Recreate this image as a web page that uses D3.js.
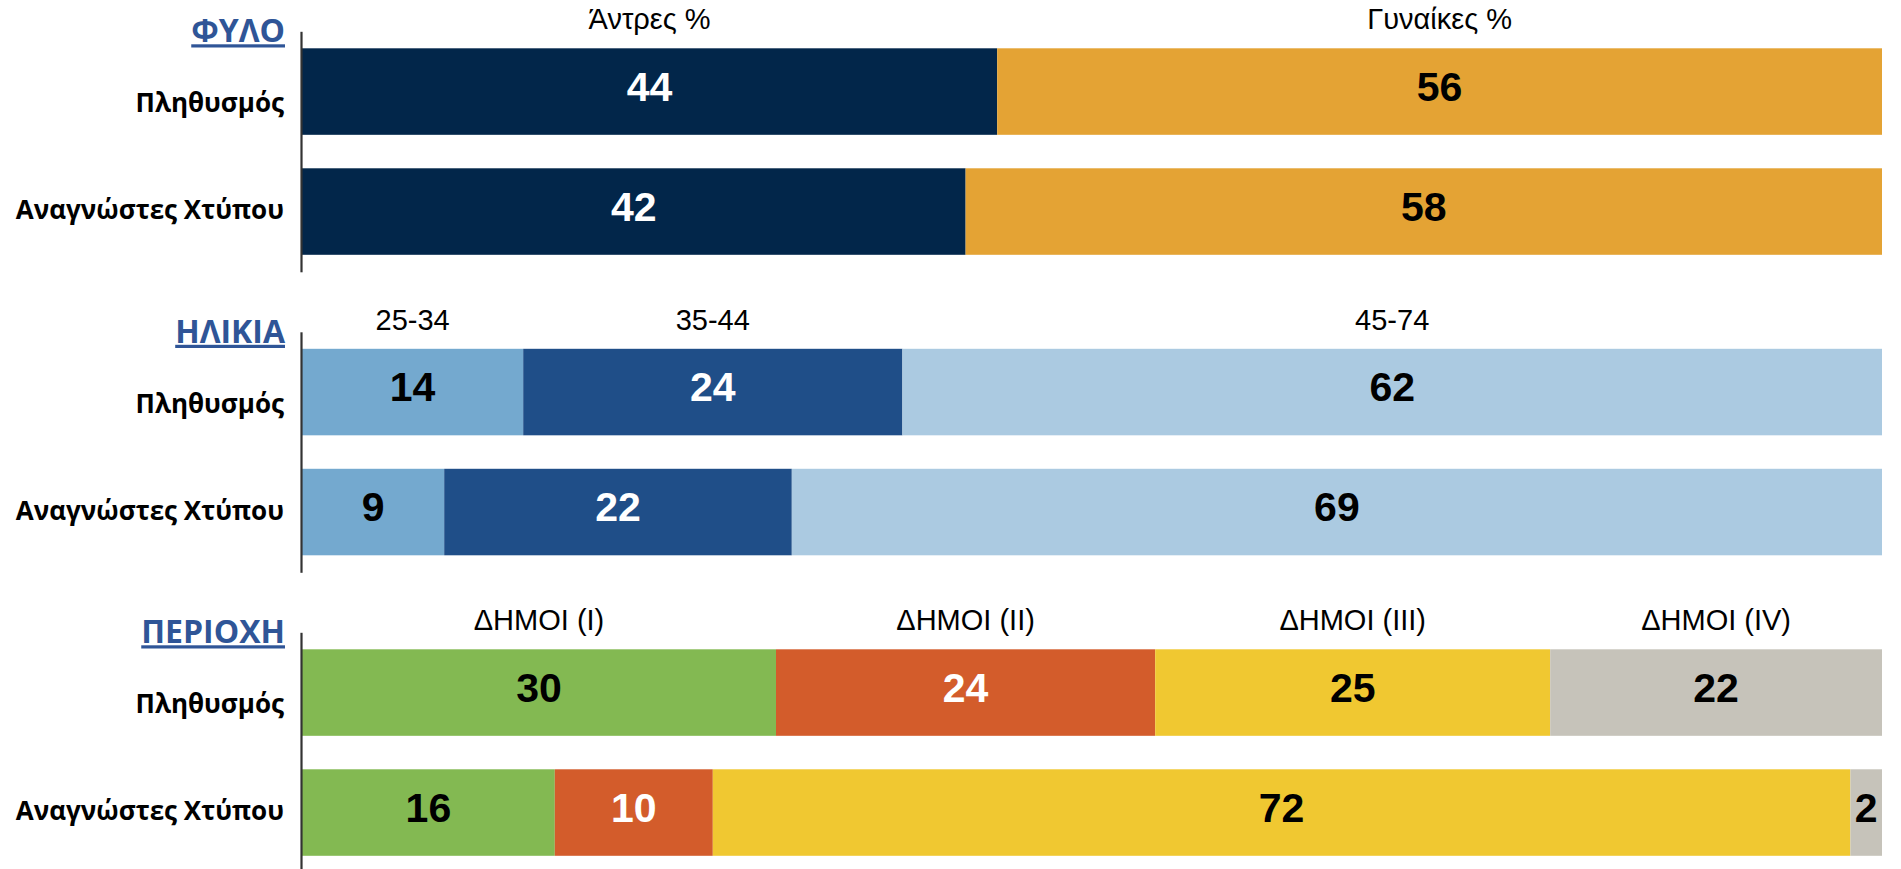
<!DOCTYPE html>
<html>
<head>
<meta charset="utf-8">
<script src="https://cdn.jsdelivr.net/npm/d3@7"></script>
<style>
  body { margin: 0; background: #fff; }
  svg { display: block; }
</style>
</head>
<body>
<svg></svg>
<script>
const width = 1901;
const height = 869;

// data
const sections = ["ΦΥΛΟ", "ΗΛΙΚΙΑ", "ΠΕΡΙΟΧΗ"];
const rows = ["Πληθυσμός", "Αναγνώστες Χτύπου"];

const genderCats = ["Άντρες %", "Γυναίκες %"];
const genderValues = [[44, 56], [42, 58]];

const ageCats = ["25-34", "35-44", "45-74"];
const ageValues = [[14, 24, 62], [9, 22, 69]];

const regionCats = ["ΔΗΜΟΙ (I)", "ΔΗΜΟΙ (II)", "ΔΗΜΟΙ (III)", "ΔΗΜΟΙ (IV)"];
const regionValues = [[30, 24, 25, 22], [16, 10, 72, 2]];

// colours
const genderColors = ["#02264a", "#e4a334"];
const ageColors = ["#74a9cf", "#1f4e88", "#abcae1"];
const regionColors = ["#83b952", "#d35c2b", "#f0c831", "#c6c3ba"];
const genderText = ["#fff", "#000"];
const ageText = ["#000", "#fff", "#000"];
const regionText = ["#000", "#fff", "#000", "#000"];

const blocks = [
  { title: sections[0], cats: genderCats, values: genderValues, colors: genderColors, text: genderText },
  { title: sections[1], cats: ageCats, values: ageValues, colors: ageColors, text: ageText },
  { title: sections[2], cats: regionCats, values: regionValues, colors: regionColors, text: regionText }
];

const svg = d3.select("svg")
  .attr("width", width)
  .attr("height", height);

const x = d3.scaleLinear()
  .domain([0, 100])
  .range([302, 1882])
  .clamp(true);

// top of each section's first bar
const secY = d3.scalePoint()
  .domain(sections)
  .range([48.3, 649.3]);

// rows inside a section (outer padding gives the axis line its overhang)
const y = d3.scaleBand()
  .domain(rows)
  .range([-17, 223.5])
  .paddingInner(0.279)
  .paddingOuter(0.1417);

// label baselines inside a section
const labelY = d3.scalePoint()
  .domain(rows)
  .range([64, 171]);

blocks.forEach(function (b) {
  const g = svg.append("g")
    .attr("transform", "translate(0," + secY(b.title) + ")");

  const table = rows.map(function (r, i) {
    const o = { row: r };
    b.cats.forEach(function (c, j) { o[c] = b.values[i][j]; });
    return o;
  });

  const series = d3.stack().keys(b.cats)(table);

  const layer = g.selectAll("g.layer")
    .data(series)
    .enter().append("g")
    .attr("class", "layer")
    .attr("fill", (d, i) => b.colors[i]);

  layer.selectAll("rect")
    .data(d => d)
    .enter().append("rect")
    .attr("x", d => x(d[0]))
    .attr("y", d => y(d.data.row))
    .attr("width", d => x(d[1]) - x(d[0]))
    .attr("height", y.bandwidth());

  layer.selectAll("text")
    .data(function (d, i) { return d.map(p => ({ p: p, i: i, key: d.key })); })
    .enter().append("text")
    .attr("x", d => (x(d.p[0]) + x(d.p[1])) / 2)
    .attr("y", d => y(d.p.data.row) + y.bandwidth() / 2 + 9)
    .attr("text-anchor", "middle")
    .attr("fill", d => b.text[d.i])
    .attr("font-family", "'Liberation Sans', Arial, sans-serif")
    .attr("font-weight", "bold")
    .attr("font-size", 41)
    .text(d => d.p.data[d.key]);

  // category headers, centred over the first row's segments
  g.selectAll("text.head")
    .data(series)
    .enter().append("text")
    .attr("class", "head")
    .attr("x", d => (x(d[0][0]) + x(d[0][1])) / 2)
    .attr("y", -19)
    .attr("text-anchor", "middle")
    .attr("fill", "#000")
    .attr("font-family", "'Liberation Sans', Arial, sans-serif")
    .attr("font-size", 29)
    .text(d => d.key);

  // vertical axis line
  g.append("g")
    .attr("transform", "translate(301,0)")
    .call(d3.axisLeft(y).tickSize(0).tickSizeOuter(0).tickFormat(""))
    .call(a => a.select(".domain").attr("stroke", "#333").attr("stroke-width", 2.2));

  // row labels
  g.selectAll("text.row")
    .data(rows)
    .enter().append("text")
    .attr("class", "row")
    .attr("x", 284)
    .attr("y", d => labelY(d))
    .attr("text-anchor", "end")
    .attr("fill", "#000")
    .attr("font-family", "'Open Sans', 'Noto Sans', sans-serif")
    .attr("font-weight", "bold")
    .attr("font-size", 26)
    .text(d => d);

  // section title
  g.append("text")
    .attr("x", 285)
    .attr("y", -6)
    .attr("text-anchor", "end")
    .attr("fill", "#2f5597")
    .attr("font-family", "'Open Sans', 'Noto Sans', sans-serif")
    .attr("font-weight", "bold")
    .attr("font-size", 32)
    .style("text-decoration", "underline")
    .text(b.title);
});
</script>
</body>
</html>
